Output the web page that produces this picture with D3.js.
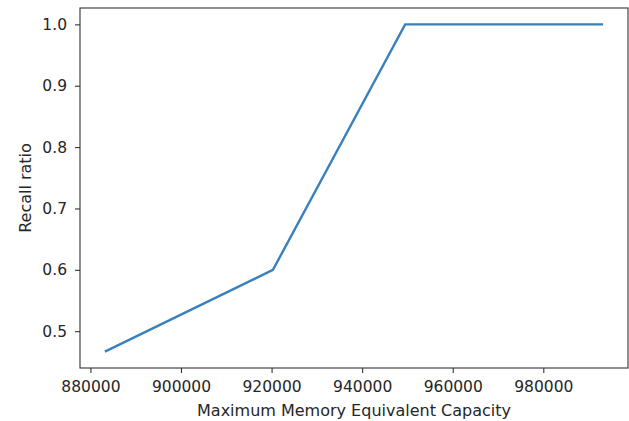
<!DOCTYPE html>
<html>
<head>
<meta charset="utf-8">
<script src="https://cdn.jsdelivr.net/npm/d3@7"></script>
<style>
  body { margin: 0; background: #fff; }
  svg text { font-family: "DejaVu Sans", sans-serif; fill: #262626; }
</style>
</head>
<body>
<div id="chart"></div>
<script>
// values
var capacity = [883200, 920300, 949500, 993200];
var recall = [0.4667, 0.6, 1.0, 1.0];
var xTickValues = [880000, 900000, 920000, 940000, 960000, 980000];
var yTickValues = [0.5, 0.6, 0.7, 0.8, 0.9, 1.0];
var xLabel = "Maximum Memory Equivalent Capacity";
var yLabel = "Recall ratio";

var width = 629, height = 421;
var margin = { left: 80, right: 1, top: 8, bottom: 53 };
var innerW = width - margin.left - margin.right;
var innerH = height - margin.top - margin.bottom;

// matplotlib style 5% padding around the data
function padded(ext) {
    var pad = (ext[1] - ext[0]) * 0.05;
    return [ext[0] - pad, ext[1] + pad];
}

var x = d3.scaleLinear().domain(padded(d3.extent(capacity))).range([0, innerW]);
var y = d3.scaleLinear().domain(padded(d3.extent(recall))).range([innerH, 0]);

var svg = d3.select("#chart").append("svg")
    .attr("width", width)
    .attr("height", height);

var g = svg.append("g")
    .attr("transform", "translate(" + margin.left + "," + margin.top + ")");

var points = capacity.map(function (c, i) { return [c, recall[i]]; });

var line = d3.line()
    .x(function (d) { return x(d[0]); })
    .y(function (d) { return y(d[1]); });

g.append("path")
    .datum(points)
    .attr("fill", "none")
    .attr("stroke", "#3a80bf")
    .attr("stroke-width", 2.4)
    .attr("stroke-linejoin", "miter")
    .attr("d", line);

var xAxis = g.append("g")
    .attr("transform", "translate(0," + innerH + ")")
    .call(d3.axisBottom(x).tickValues(xTickValues).tickFormat(d3.format("d")).tickSize(5).tickPadding(8));

var yAxis = g.append("g")
    .call(d3.axisLeft(y).tickValues(yTickValues).tickFormat(d3.format(".1f")).tickSize(5).tickPadding(8));

[xAxis, yAxis].forEach(function (a) {
    a.select(".domain").remove();
    a.selectAll("line").attr("stroke", "#333").attr("stroke-width", 1.1);
    a.selectAll("text").attr("font-size", 15.5).attr("fill", "#262626")
        .attr("font-family", "DejaVu Sans, sans-serif");
});

// axes frame
g.append("rect")
    .attr("x", 0)
    .attr("y", 0)
    .attr("width", innerW)
    .attr("height", innerH)
    .attr("fill", "none")
    .attr("stroke", "#333")
    .attr("stroke-width", 1.1);

svg.append("text")
    .attr("x", margin.left + innerW / 2)
    .attr("y", 416)
    .attr("text-anchor", "middle")
    .attr("font-size", 16)
    .text(xLabel);

svg.append("text")
    .attr("transform", "translate(31," + (margin.top + innerH / 2) + ") rotate(-90)")
    .attr("text-anchor", "middle")
    .attr("font-size", 16)
    .text(yLabel);
</script>
</body>
</html>
